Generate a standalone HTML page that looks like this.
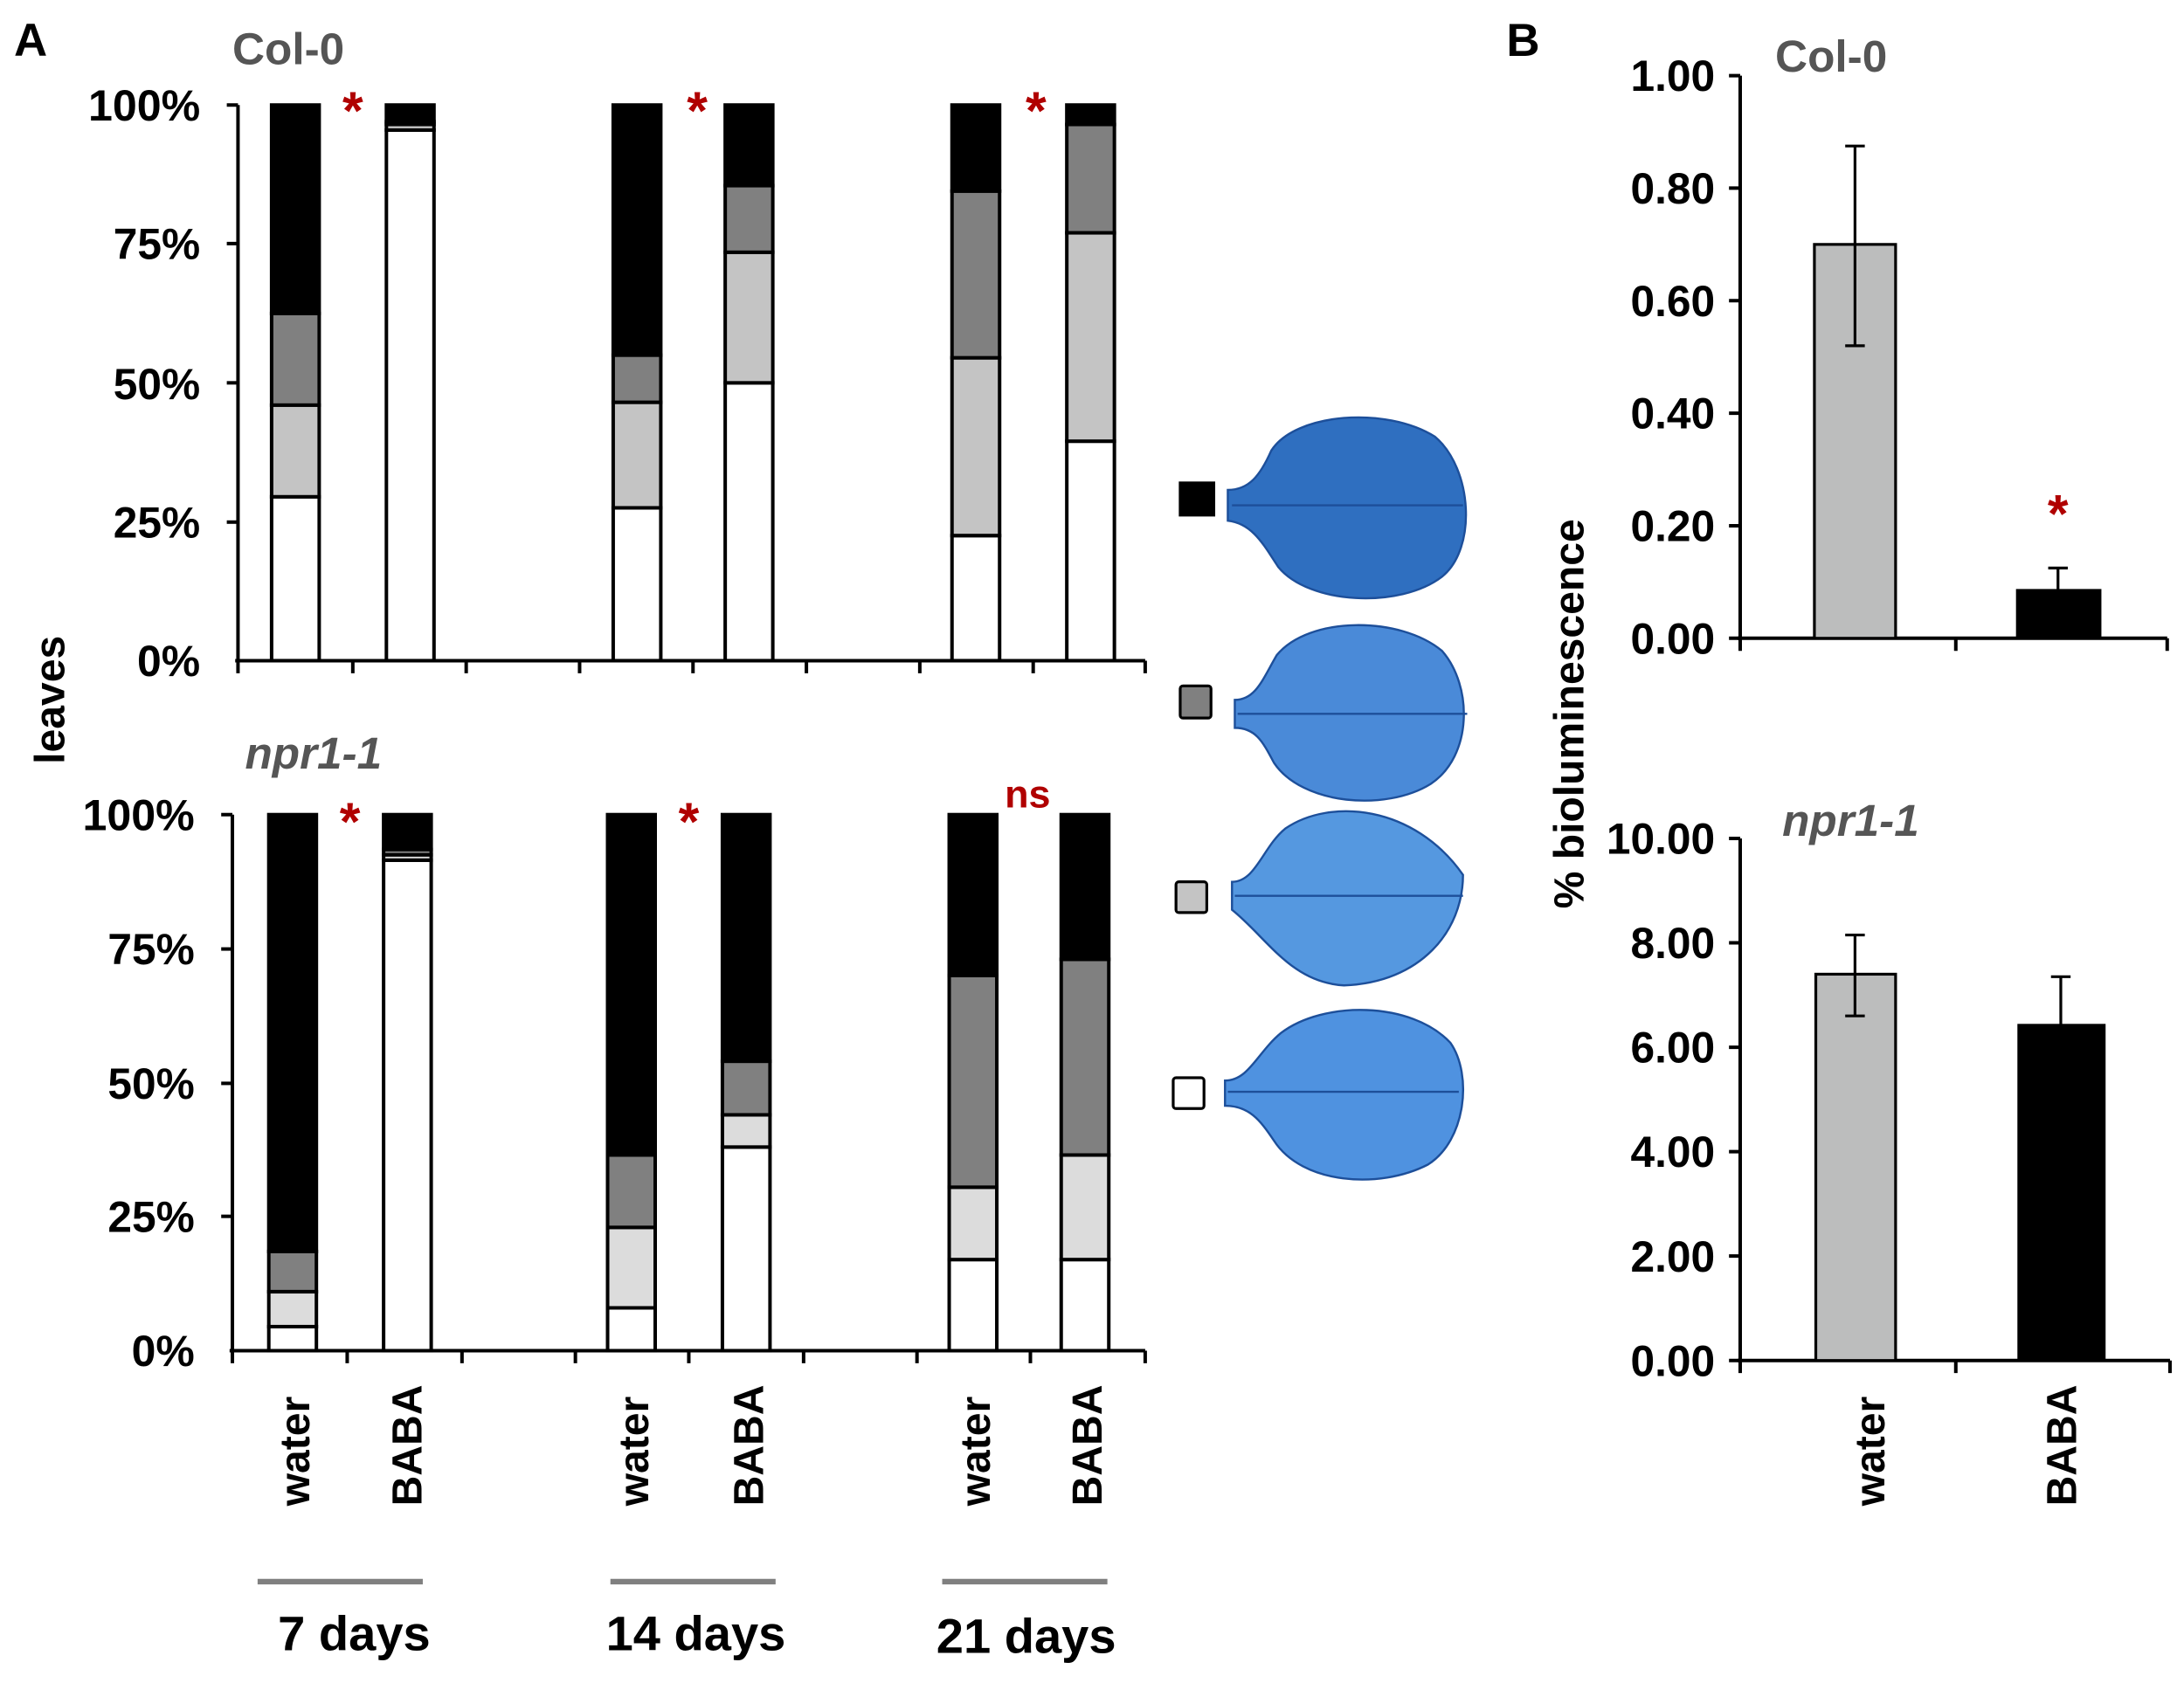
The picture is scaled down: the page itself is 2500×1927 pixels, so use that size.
<!DOCTYPE html>
<html><head><meta charset="utf-8"><style>html,body{margin:0;padding:0;background:#fff}svg{display:block}</style></head>
<body>
<svg width="2500" height="1927" viewBox="0 0 1560 1202.4" xmlns="http://www.w3.org/2000/svg" font-family="Liberation Sans, sans-serif" font-weight="bold">
<rect width="1560" height="1203" fill="#fff"/>
<text x="10" y="40" font-size="33">A</text>
<text x="1076" y="40" font-size="33">B</text>
<text x="166" y="46" font-size="32" fill="#555">Col-0</text>
<text x="175" y="549" font-size="32" fill="#555" font-style="italic">npr1-1</text>
<g stroke="#000" stroke-width="2.5" fill="none">
<line x1="170" y1="75" x2="170" y2="472"/><line x1="168" y1="472" x2="818" y2="472"/>
<line x1="162" y1="75" x2="170" y2="75"/><line x1="162" y1="174" x2="170" y2="174"/><line x1="162" y1="273.5" x2="170" y2="273.5"/><line x1="162" y1="373" x2="170" y2="373"/>
<path d="M170 472v9M252 472v9M333 472v9M414 472v9M495 472v9M576 472v9M657 472v9M738 472v9M818 472v9"/>
<line x1="166" y1="582" x2="166" y2="965"/><line x1="164" y1="965" x2="818" y2="965"/>
<line x1="158" y1="582" x2="166" y2="582"/><line x1="158" y1="678" x2="166" y2="678"/><line x1="158" y1="774" x2="166" y2="774"/><line x1="158" y1="869" x2="166" y2="869"/>
<path d="M166 965v9M248 965v9M330 965v9M411 965v9M492 965v9M574 965v9M655 965v9M736 965v9M818 965v9"/>
</g>
<g font-size="31" text-anchor="end">
<text x="143" y="86" textLength="80" lengthAdjust="spacingAndGlyphs">100%</text><text x="143" y="185" textLength="62" lengthAdjust="spacingAndGlyphs">75%</text><text x="143" y="285" textLength="62" lengthAdjust="spacingAndGlyphs">50%</text><text x="143" y="384" textLength="62" lengthAdjust="spacingAndGlyphs">25%</text><text x="143" y="483" textLength="45" lengthAdjust="spacingAndGlyphs">0%</text>
<text x="139" y="593" textLength="80" lengthAdjust="spacingAndGlyphs">100%</text><text x="139" y="689" textLength="62" lengthAdjust="spacingAndGlyphs">75%</text><text x="139" y="785" textLength="62" lengthAdjust="spacingAndGlyphs">50%</text><text x="139" y="880" textLength="62" lengthAdjust="spacingAndGlyphs">25%</text><text x="139" y="976" textLength="45" lengthAdjust="spacingAndGlyphs">0%</text>
</g>
<text transform="translate(46,500) rotate(-90)" font-size="30" text-anchor="middle">leaves</text>
<g stroke="#000" stroke-width="2.5">
<rect x="194" y="354.9" width="34" height="117.1" fill="#fff"/><rect x="194" y="289.4" width="34" height="65.5" fill="#c4c4c4"/><rect x="194" y="223.9" width="34" height="65.5" fill="#808080"/><rect x="194" y="75" width="34" height="148.9" fill="#000"/>
<rect x="276" y="92.9" width="34" height="379.1" fill="#fff"/><rect x="276" y="88.9" width="34" height="4" fill="#c4c4c4"/><rect x="276" y="86.9" width="34" height="2" fill="#808080"/><rect x="276" y="75" width="34" height="11.9" fill="#000"/>
<rect x="438" y="362.8" width="34" height="109.2" fill="#fff"/><rect x="438" y="287.4" width="34" height="75.4" fill="#c4c4c4"/><rect x="438" y="253.7" width="34" height="33.7" fill="#808080"/><rect x="438" y="75" width="34" height="178.7" fill="#000"/>
<rect x="518" y="273.5" width="34" height="198.5" fill="#fff"/><rect x="518" y="180.2" width="34" height="93.3" fill="#c4c4c4"/><rect x="518" y="132.6" width="34" height="47.6" fill="#808080"/><rect x="518" y="75" width="34" height="57.6" fill="#000"/>
<rect x="680" y="382.7" width="34" height="89.3" fill="#fff"/><rect x="680" y="255.6" width="34" height="127" fill="#c4c4c4"/><rect x="680" y="136.5" width="34" height="119.1" fill="#808080"/><rect x="680" y="75" width="34" height="61.5" fill="#000"/>
<rect x="762" y="315.2" width="34" height="156.8" fill="#fff"/><rect x="762" y="166.3" width="34" height="148.9" fill="#c4c4c4"/><rect x="762" y="88.9" width="34" height="77.4" fill="#808080"/><rect x="762" y="75" width="34" height="13.9" fill="#000"/>
<rect x="192" y="947.8" width="34" height="17.2" fill="#fff"/><rect x="192" y="922.9" width="34" height="24.9" fill="#dcdcdc"/><rect x="192" y="894.1" width="34" height="28.7" fill="#808080"/><rect x="192" y="582" width="34" height="312.1" fill="#000"/>
<rect x="274" y="614.6" width="34" height="350.4" fill="#fff"/><rect x="274" y="610.7" width="34" height="3.8" fill="#dcdcdc"/><rect x="274" y="606.9" width="34" height="3.8" fill="#808080"/><rect x="274" y="582" width="34" height="24.9" fill="#000"/>
<rect x="434" y="934.4" width="34" height="30.6" fill="#fff"/><rect x="434" y="876.9" width="34" height="57.5" fill="#dcdcdc"/><rect x="434" y="825.2" width="34" height="51.7" fill="#808080"/><rect x="434" y="582" width="34" height="243.2" fill="#000"/>
<rect x="516" y="819.5" width="34" height="145.5" fill="#fff"/><rect x="516" y="796.5" width="34" height="23" fill="#dcdcdc"/><rect x="516" y="758.2" width="34" height="38.3" fill="#808080"/><rect x="516" y="582" width="34" height="176.2" fill="#000"/>
<rect x="678" y="899.9" width="34" height="65.1" fill="#fff"/><rect x="678" y="848.2" width="34" height="51.7" fill="#dcdcdc"/><rect x="678" y="696.9" width="34" height="151.3" fill="#808080"/><rect x="678" y="582" width="34" height="114.9" fill="#000"/>
<rect x="758" y="899.9" width="34" height="65.1" fill="#fff"/><rect x="758" y="825.2" width="34" height="74.7" fill="#dcdcdc"/><rect x="758" y="685.4" width="34" height="139.8" fill="#808080"/><rect x="758" y="582" width="34" height="103.4" fill="#000"/>
</g>
<g fill="#b00000" font-size="38" text-anchor="middle">
<text x="252" y="92">*</text><text x="498" y="92">*</text><text x="740" y="92">*</text>
<text x="250" y="600">*</text><text x="492" y="600">*</text><text x="734" y="577" font-size="28">ns</text>
<text x="1470" y="380">*</text>
</g>
<g font-size="30">
<text transform="translate(221,1076) rotate(-90)">water</text>
<text transform="translate(301,1076) rotate(-90)">BABA</text>
<text transform="translate(463,1076) rotate(-90)">water</text>
<text transform="translate(545,1076) rotate(-90)">BABA</text>
<text transform="translate(707,1076) rotate(-90)">water</text>
<text transform="translate(787,1076) rotate(-90)">BABA</text>
<text transform="translate(1346,1076) rotate(-90)">water</text>
<text transform="translate(1483,1076) rotate(-90)">BABA</text>
</g>
<g stroke="#808080" stroke-width="4"><line x1="184" y1="1130" x2="302" y2="1130"/><line x1="436" y1="1130" x2="554" y2="1130"/><line x1="673" y1="1130" x2="791" y2="1130"/></g>
<g font-size="35" text-anchor="middle"><text x="253" y="1179">7 days</text><text x="497" y="1179">14 days</text><text x="733" y="1181">21 days</text></g>
<g stroke="#000" stroke-width="2">
<rect x="843" y="345" width="24" height="23" fill="#000"/>
<rect x="843" y="490" width="22" height="23" fill="#808080" rx="2"/>
<rect x="840" y="630" width="22" height="22" fill="#c4c4c4" rx="2"/>
<rect x="838" y="770" width="22" height="22" fill="#fff" rx="2"/>
</g>
<g stroke="#1d4f9a" stroke-width="1.5">
<path d="M877 350 C892 350 900 340 908 322 C925 295 990 290 1025 312 C1052 335 1055 392 1030 412 C1000 435 935 432 913 405 C903 390 895 374 877 372 Z" fill="#2f6fc0"/>
<path d="M882 500 C897 500 902 485 912 468 C935 440 1000 440 1030 465 C1052 490 1052 540 1022 560 C990 580 930 575 910 545 C902 530 897 520 882 520 Z" fill="#4a8ad8"/>
<path d="M880 630 C897 630 902 605 918 592 C950 570 1010 575 1045 625 C1045 665 1015 702 960 704 C922 702 905 670 880 650 Z" fill="#5598e0"/>
<path d="M875 772 C892 772 898 752 915 738 C945 715 1008 715 1036 745 C1052 768 1047 815 1020 832 C985 850 930 846 910 815 C900 800 892 790 875 790 Z" fill="#4f92e0"/>
</g>
<g stroke="#1d4f9a" stroke-width="1.5" fill="none">
<path d="M880 361 H1045 M884 510 H1048 M882 640 H1045 M877 780 H1042"/>
</g>
<g stroke="#000" stroke-width="2.5" fill="none">
<line x1="1243" y1="54" x2="1243" y2="456"/><line x1="1241" y1="456" x2="1548" y2="456"/>
<path d="M1235 54h8M1235 134.4h8M1235 214.8h8M1235 295.2h8M1235 375.6h8M1235 456h8M1243 456v9M1397 456v9M1548 456v9"/>
<line x1="1243" y1="599" x2="1243" y2="972"/><line x1="1241" y1="972" x2="1550" y2="972"/>
<path d="M1235 599h8M1235 673.6h8M1235 748.2h8M1235 822.8h8M1235 897.4h8M1235 972h8M1243 972v9M1397 972v9M1550 972v9"/>
</g>
<g font-size="31" text-anchor="end">
<text x="1225" y="65">1.00</text><text x="1225" y="145.4">0.80</text><text x="1225" y="225.8">0.60</text><text x="1225" y="306.2">0.40</text><text x="1225" y="386.6">0.20</text><text x="1225" y="467">0.00</text>
<text x="1225" y="610">10.00</text><text x="1225" y="684.6">8.00</text><text x="1225" y="759.2">6.00</text><text x="1225" y="833.8">4.00</text><text x="1225" y="908.4">2.00</text><text x="1225" y="983">0.00</text>
</g>
<text x="1268" y="51" font-size="32" fill="#555">Col-0</text>
<text x="1273" y="597" font-size="32" fill="#555" font-style="italic">npr1-1</text>
<text transform="translate(1131,510) rotate(-90)" font-size="30" text-anchor="middle">% bioluminescence</text>
<g stroke="#000" stroke-width="2">
<rect x="1296" y="174.6" width="58" height="281.4" fill="#bcbdbd"/>
<rect x="1441" y="421.8" width="59" height="34.2" fill="#000"/>
<rect x="1297" y="696" width="57" height="276" fill="#bcbdbd"/>
<rect x="1442" y="732.5" width="61" height="239.5" fill="#000"/>
<path d="M1325 104.3V247M1318 104.3h14M1318 247h14 M1470 405.8V422M1463 405.8h14 M1325 668V725.8M1318 668h14M1318 725.8h14 M1472 697.8V733M1465 697.8h14" fill="none"/>
</g>
</svg>
</body></html>
